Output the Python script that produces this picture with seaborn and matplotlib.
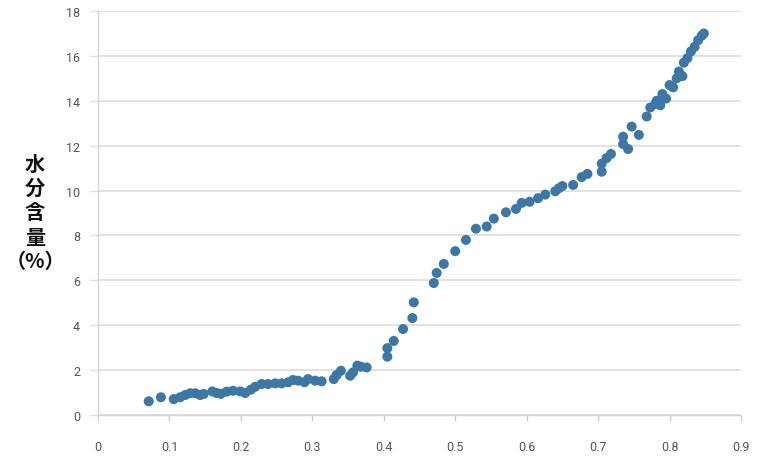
import numpy as np
import pandas as pd
import matplotlib
matplotlib.use("Agg")
import matplotlib.pyplot as plt
import seaborn as sns

# water activity (x) vs moisture content % (y)
water_activity = [
    0.071, 0.088, 0.106, 0.115, 0.122, 0.129, 0.136, 0.143, 0.148, 0.160,
    0.166, 0.172, 0.180, 0.189, 0.199, 0.206, 0.214, 0.220, 0.229, 0.238,
    0.248, 0.257, 0.266, 0.273, 0.280, 0.289, 0.294, 0.304, 0.313, 0.330,
    0.334, 0.340, 0.353, 0.357, 0.363, 0.368, 0.376,
    0.405, 0.405, 0.414, 0.427, 0.440, 0.442, 0.470, 0.474, 0.484, 0.500,
    0.515, 0.529, 0.544, 0.554, 0.571, 0.585, 0.593, 0.604, 0.616, 0.626,
    0.640, 0.645, 0.650, 0.665, 0.677, 0.685, 0.705, 0.705, 0.712, 0.718,
    0.735, 0.735, 0.742, 0.747, 0.757, 0.768, 0.773, 0.780, 0.782, 0.787,
    0.790, 0.795, 0.800, 0.805, 0.810, 0.813, 0.818, 0.820, 0.825, 0.830,
    0.835, 0.840, 0.845, 0.848,
]
moisture = [
    0.61, 0.79, 0.71, 0.79, 0.89, 0.97, 0.97, 0.89, 0.94, 1.05,
    0.98, 0.94, 1.04, 1.08, 1.05, 0.98, 1.13, 1.26, 1.38, 1.38,
    1.41, 1.41, 1.46, 1.56, 1.53, 1.46, 1.60, 1.53, 1.50, 1.60,
    1.78, 1.97, 1.75, 1.90, 2.20, 2.15, 2.12,
    2.60, 2.98, 3.30, 3.83, 4.32, 5.02, 5.88, 6.33, 6.73, 7.30,
    7.80, 8.30, 8.40, 8.75, 9.03, 9.18, 9.45, 9.50, 9.66, 9.82,
    9.97, 10.10, 10.20, 10.25, 10.60, 10.74, 10.84, 11.20, 11.45, 11.63,
    12.40, 12.07, 11.85, 12.85, 12.48, 13.30, 13.70, 13.86, 14.00, 13.80,
    14.30, 14.10, 14.70, 14.60, 15.00, 15.30, 15.10, 15.70, 15.90, 16.20,
    16.40, 16.70, 16.90, 17.00,
]
x_ticks = [0, 0.1, 0.2, 0.3, 0.4, 0.5, 0.6, 0.7, 0.8, 0.9]
x_tick_labels = ["0", "0.1", "0.2", "0.3", "0.4", "0.5", "0.6", "0.7", "0.8", "0.9"]
y_ticks = [0, 2, 4, 6, 8, 10, 12, 14, 16, 18]
y_label = "水\n分\n含\n量\n（%）"

sns.set_theme(style="whitegrid")
plt.rcParams['font.family'] = ['Roboto', 'DejaVu Sans']

df = pd.DataFrame({"aw": water_activity, "mc": moisture})

fig = plt.figure(figsize=(7.6, 4.6), dpi=100)
ax = fig.add_axes([98 / 760, 44 / 460, 643 / 760, 404 / 460])

sns.scatterplot(data=df, x="aw", y="mc", ax=ax, color="#3d77a6",
                s=52, edgecolor="none", linewidth=0, zorder=3)

ax.set_xlim(0, 0.9)
ax.set_ylim(0, 18)
ax.set_xticks(x_ticks)
ax.set_xticklabels(x_tick_labels)
ax.set_yticks(y_ticks)

ax.grid(axis="x", visible=False)
ax.grid(axis="y", color="#dddddd", linewidth=1.2)
for side in ["top", "right"]:
    ax.spines[side].set_visible(False)
for side in ["left", "bottom"]:
    ax.spines[side].set_color("#d4d4d4")
    ax.spines[side].set_linewidth(1.0)

ax.tick_params(axis="x", length=4, width=1, color="#cccccc", pad=14,
               labelsize=9, labelcolor="#555555", bottom=True)
ax.tick_params(axis="y", length=6, width=1, color="#dddddd", pad=7,
               labelsize=9, labelcolor="#555555", left=True)

ax.set_xlabel("")
ax.set_ylabel("")
fig.text(35 / 760, 1 - 213 / 460, y_label, ha="center", va="center",
         fontsize=14.5, fontweight="bold", color="#111111",
         family=["Noto Sans CJK JP", "DejaVu Sans"], linespacing=1.2)

fig.savefig("out.png", dpi=100)
plt.close(fig)
